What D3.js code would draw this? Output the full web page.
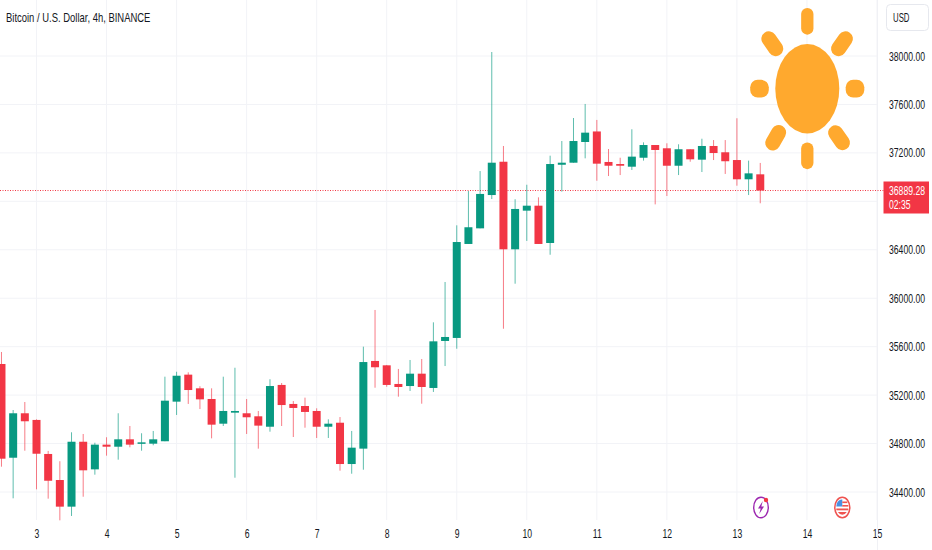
<!DOCTYPE html>
<html>
<head>
<meta charset="utf-8">
<script src="https://cdn.jsdelivr.net/npm/d3@7"></script>
<style>
html, body { margin: 0; padding: 0; background: #fff; }
svg { display: block; }
text { font-family: "Liberation Sans", sans-serif; }
</style>
</head>
<body>
<svg id="chart" width="932" height="550"></svg>
<script>
// 4h candles, first one is 12:00 on the 2nd
var opens = [35457,34683,35050,34995,34714,34499,34279,34815,34587,34791,34774,34835,34799,34799,34819,35146,35369,35256,35168,34964,
  35055,35050,35025,34939,35284,35127,35110,35069,34939,34972,34631,34758,35482,35446,35292,35275,35377,35259,35647,35672,
  36448,36577,36852,37127,36404,36723,36764,36456,37102,37119,37290,37377,37125,37108,37086,37160,37265,37238,37094,37230,
  37144,37257,37205,37141,36982,37023];
var highs = [35556,35077,35143,35000,34739,34654,34893,34879,34807,34852,35050,34945,34885,34904,35352,35393,35388,35273,35256,35352,
  35426,35168,35069,35331,35300,35151,35179,35091,35000,35019,34904,35600,35903,35449,35416,35490,35498,35801,36134,36602,
  36885,37050,38033,37257,36817,36937,36833,37177,37298,37488,37604,37472,37232,37160,37395,37287,37265,37279,37271,37230,
  37317,37306,37306,37486,37136,37117];
var lows = [34609,34348,34741,34422,34345,34166,34202,34361,34543,34700,34667,34769,34741,34786,34819,35036,35127,35085,34843,34945,
  34518,34879,34758,34898,34945,34854,34931,34846,34846,34576,34551,34584,35261,35269,35187,35234,35129,35226,35440,35583,
  36448,36577,36819,35748,36120,36473,36448,36359,36880,37119,37155,36970,37009,37017,37059,37136,36775,36844,37017,37127,
  37042,37141,37026,36929,36852,36784];
var closes = [34675,35050,34984,34716,34493,34279,34815,34579,34791,34774,34835,34791,34810,34835,35154,35360,35242,35165,34956,35069,
  35069,35017,34948,35275,35118,35094,35061,34939,34964,34631,34766,35473,35430,35284,35267,35377,35267,35644,35680,36464,
  36586,36861,37119,36404,36737,36764,36448,37108,37119,37298,37367,37111,37094,37094,37169,37265,37224,37094,37230,37147,
  37257,37199,37131,36982,37031,36889.28];

var priceTicks = [34400,34800,35200,35600,36000,36400,36800,37200,37600,38000];
var dayTicks = [3,4,5,6,7,8,9,10,11,12,13,14,15];
var lastPrice = 36889.28;
var priceLabel = "36889.28";
var countdown = "02:35";
var title = "Bitcoin / U.S. Dollar, 4h, BINANCE";
var currency = "USD";

var WIDTH = 932, HEIGHT = 550, plotRight = 877.5, plotBottom = 520;
var up = "#089981", down = "#f23645", gridColor = "#f2f3f7", textColor = "#131722", sunColor = "#ffa92e";

var svg = d3.select("#chart");

var x = d3.scaleLinear().domain([3, 15]).range([36.5, 877]);
var y = d3.scaleLinear().domain([34400, 38000]).range([492, 56]);

// position of candle i in days, 6 bars per day
function barX(i) { return x(2.5 + i / 6); }

// the original screenshot is squeezed sideways, so squeeze the text too
function squeeze(sel, k) {
  sel.each(function() {
    var w = this.getComputedTextLength();
    d3.select(this).attr("textLength", w * k).attr("lengthAdjust", "spacingAndGlyphs");
  });
  return sel;
}

var yAxis = d3.axisRight(y).tickValues(priceTicks).tickFormat(d3.format(".2f")).tickSize(0).tickPadding(0);
var xAxis = d3.axisBottom(x).tickValues(dayTicks).tickFormat(d3.format("d")).tickSize(0).tickPadding(0);

svg.append("g").attr("class", "hgrid")
  .selectAll("line").data(priceTicks).join("line")
  .attr("x1", 0).attr("x2", plotRight)
  .attr("y1", function(d) { return y(d); }).attr("y2", function(d) { return y(d); })
  .attr("stroke", gridColor).attr("stroke-width", 1);

svg.append("g").attr("class", "vgrid")
  .selectAll("line").data(dayTicks).join("line")
  .attr("x1", function(d) { return x(d); }).attr("x2", function(d) { return x(d); })
  .attr("y1", 0).attr("y2", plotBottom)
  .attr("stroke", gridColor).attr("stroke-width", 1);

var yg = svg.append("g").attr("transform", "translate(889,0)").call(yAxis);
yg.attr("font-family", null);
yg.select(".domain").remove();
squeeze(yg.selectAll("text").attr("x", 0).attr("fill", textColor).attr("font-size", 12.5), 0.69);

var xg = svg.append("g").attr("transform", "translate(0,529)").call(xAxis);
xg.attr("font-family", null);
xg.select(".domain").remove();
squeeze(xg.selectAll("text").attr("y", 0).attr("fill", textColor).attr("font-size", 12.5), 0.69);

// axis divider
svg.append("line").attr("x1", plotRight).attr("x2", plotRight).attr("y1", 0).attr("y2", HEIGHT).attr("stroke", "#f0f1f5");

// last price line
svg.append("line")
  .attr("x1", 0).attr("x2", 884)
  .attr("y1", y(lastPrice)).attr("y2", y(lastPrice))
  .attr("stroke", down).attr("stroke-width", 1).attr("stroke-dasharray", "1,1.5");

// candles
var candles = svg.append("g").attr("class", "candles")
  .selectAll("g").data(opens).join("g");

candles.append("line")
  .attr("x1", function(d, i) { return barX(i); })
  .attr("x2", function(d, i) { return barX(i); })
  .attr("y1", function(d, i) { return y(highs[i]); })
  .attr("y2", function(d, i) { return y(lows[i]); })
  .attr("stroke", function(d, i) { return closes[i] >= d ? up : down; })
  .attr("stroke-width", 1).attr("stroke-opacity", 0.65);

candles.append("rect")
  .attr("x", function(d, i) { return barX(i) - 4; })
  .attr("width", 8)
  .attr("y", function(d, i) { return y(Math.max(d, closes[i])); })
  .attr("height", function(d, i) { return Math.max(1.5, Math.abs(y(d) - y(closes[i]))); })
  .attr("fill", function(d, i) { return closes[i] >= d ? up : down; });

// title
squeeze(svg.append("text").attr("x", 6).attr("y", 22).attr("font-size", 13.5).attr("fill", textColor).text(title), 0.7);

// currency button
svg.append("rect").attr("x", 886.5).attr("y", 4.5).attr("width", 42).attr("height", 26).attr("rx", 4)
  .attr("fill", "#fff").attr("stroke", "#e6e8ee");
squeeze(svg.append("text").attr("x", 893).attr("y", 22).attr("font-size", 12).attr("fill", textColor).text(currency), 0.65);

// price label
svg.append("rect").attr("x", 883.5).attr("y", 181.5).attr("width", 45.5).attr("height", 32).attr("fill", down);
squeeze(svg.append("text").attr("x", 889).attr("y", 195).attr("font-size", 12.5).attr("fill", "#fff").text(priceLabel), 0.69);
squeeze(svg.append("text").attr("x", 889).attr("y", 209).attr("font-size", 12.5).attr("fill", "#fff").text(countdown), 0.69);

// the sun doodle
var sun = svg.append("g").attr("fill", sunColor);
sun.append("ellipse").attr("cx", 807.3).attr("cy", 88.7).attr("rx", 32).attr("ry", 44.7);
var rays = [
  [807.3, 21.3, 12.3, 26.7, 0, 6.1], [807.3, 155.8, 12.3, 26.7, 0, 6.1],
  [759.5, 88.7, 18.6, 17.7, 0, 7.5], [855, 88.7, 18.6, 17.7, 0, 7.5],
  [772.3, 43.7, 15, 27, -35, 7.5], [842, 43.7, 15, 27, 35, 7.5],
  [775.7, 137.7, 15, 27, 30, 7.5], [839, 137.7, 15, 27, -35, 7.5]
];
rays.forEach(function(r) {
  sun.append("rect")
    .attr("x", -r[2] / 2).attr("y", -r[3] / 2).attr("width", r[2]).attr("height", r[3])
    .attr("rx", r[5])
    .attr("transform", "translate(" + r[0] + "," + r[1] + ") rotate(" + r[4] + ")");
});

// event badges at the bottom
var bolt = svg.append("g").attr("transform", "translate(761,507.5)");
bolt.append("ellipse").attr("rx", 7.3).attr("ry", 10.3).attr("fill", "#fff").attr("stroke", "#9c27b0").attr("stroke-width", 1.4);
bolt.append("path").attr("d", "M1.8,-6.5 L-3,1 L-0.3,1 L-1.8,6.5 L3,-1 L0.3,-1 Z").attr("fill", "#9c27b0");
bolt.append("circle").attr("cx", 5).attr("cy", -7.5).attr("r", 2.2).attr("fill", down);

var flag = svg.append("g").attr("transform", "translate(842.3,507.5)");
flag.append("ellipse").attr("rx", 7.5).attr("ry", 10.3).attr("fill", "#fff").attr("stroke", "#ef5350").attr("stroke-width", 1.5);
flag.append("path").attr("d", "M-5.5,-4 A6,8 0 0 1 0,-8 L0,-1 L-6,-1 Z").attr("fill", "#4a90e2");
flag.append("rect").attr("x", 0).attr("y", -6).attr("width", 5).attr("height", 1.6).attr("fill", "#ef5350");
flag.append("rect").attr("x", 0).attr("y", -2.5).attr("width", 6).attr("height", 1.6).attr("fill", "#ef5350");
flag.append("rect").attr("x", -6).attr("y", 1).attr("width", 12).attr("height", 1.8).attr("fill", "#ef5350");
flag.append("path").attr("d", "M-4.5,4.5 L4.5,4.5 A6,8 0 0 1 -4.5,4.5 Z").attr("fill", "#ef5350");
</script>
</body>
</html>
